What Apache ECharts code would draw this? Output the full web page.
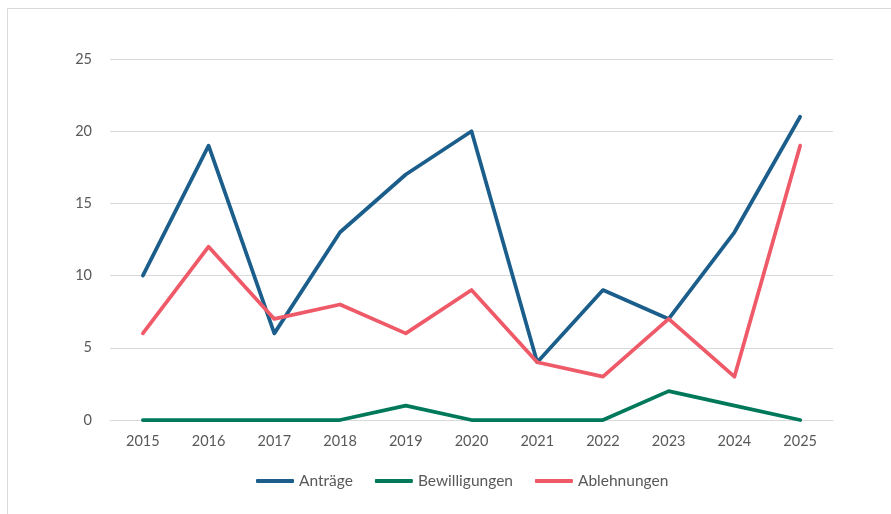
<!DOCTYPE html>
<html><head><meta charset="utf-8">
<script src="https://cdn.jsdelivr.net/npm/echarts@6/dist/echarts.min.js"></script>
<style>html,body{margin:0;padding:0;background:#fff}#c{width:891px;height:514px}</style>
</head><body><div id="c"></div>
<script>
const years = ['2015','2016','2017','2018','2019','2020','2021','2022','2023','2024','2025'];
const antraege = [10,19,6,13,17,20,4,9,7,13,21];
const bewilligungen = [0,0,0,0,1,0,0,0,2,1,0];
const ablehnungen = [6,12,7,8,6,9,4,3,7,3,19];
const seriesNames = ['Anträge','Bewilligungen','Ablehnungen'];
const colors = ['#1b5e8b','#00795b','#ef5a68'];

const chart = echarts.init(document.getElementById('c'));
const font = 'Lato, "Open Sans", sans-serif';
const mk = (name, data, color) => ({
  name, type:'line', data, symbol:'none', smooth:false,
  lineStyle:{width:3.75, color, cap:'round', join:'round'}, itemStyle:{color}
});
chart.setOption({
  animation:false,
  graphic:[{type:'rect', shape:{x:7.5,y:8.5,width:1000,height:1000}, style:{fill:'none', stroke:'#d9d9d9', lineWidth:1}}],
  grid:{left:110, right:58, top:59, bottom:94},
  legend:{bottom:20, left:251, itemWidth:38, itemHeight:4, itemGap:22, icon:'roundRect',
    textStyle:{fontFamily:font, fontSize:15.5, color:'#595959'}, data:seriesNames},
  xAxis:{type:'category', data:years, boundaryGap:true,
    axisLine:{lineStyle:{color:'#d9d9d9'}}, axisTick:{show:false},
    axisLabel:{fontFamily:font, fontSize:14.5, color:'#595959', margin:14}},
  yAxis:{type:'value', min:0, max:25, interval:5,
    axisLine:{show:false}, axisTick:{show:false},
    splitLine:{lineStyle:{color:'#d9d9d9'}},
    axisLabel:{fontFamily:font, fontSize:14.5, color:'#595959', margin:18}},
  series:[mk(seriesNames[0], antraege, colors[0]), mk(seriesNames[1], bewilligungen, colors[1]), mk(seriesNames[2], ablehnungen, colors[2])]
});
</script></body></html>
